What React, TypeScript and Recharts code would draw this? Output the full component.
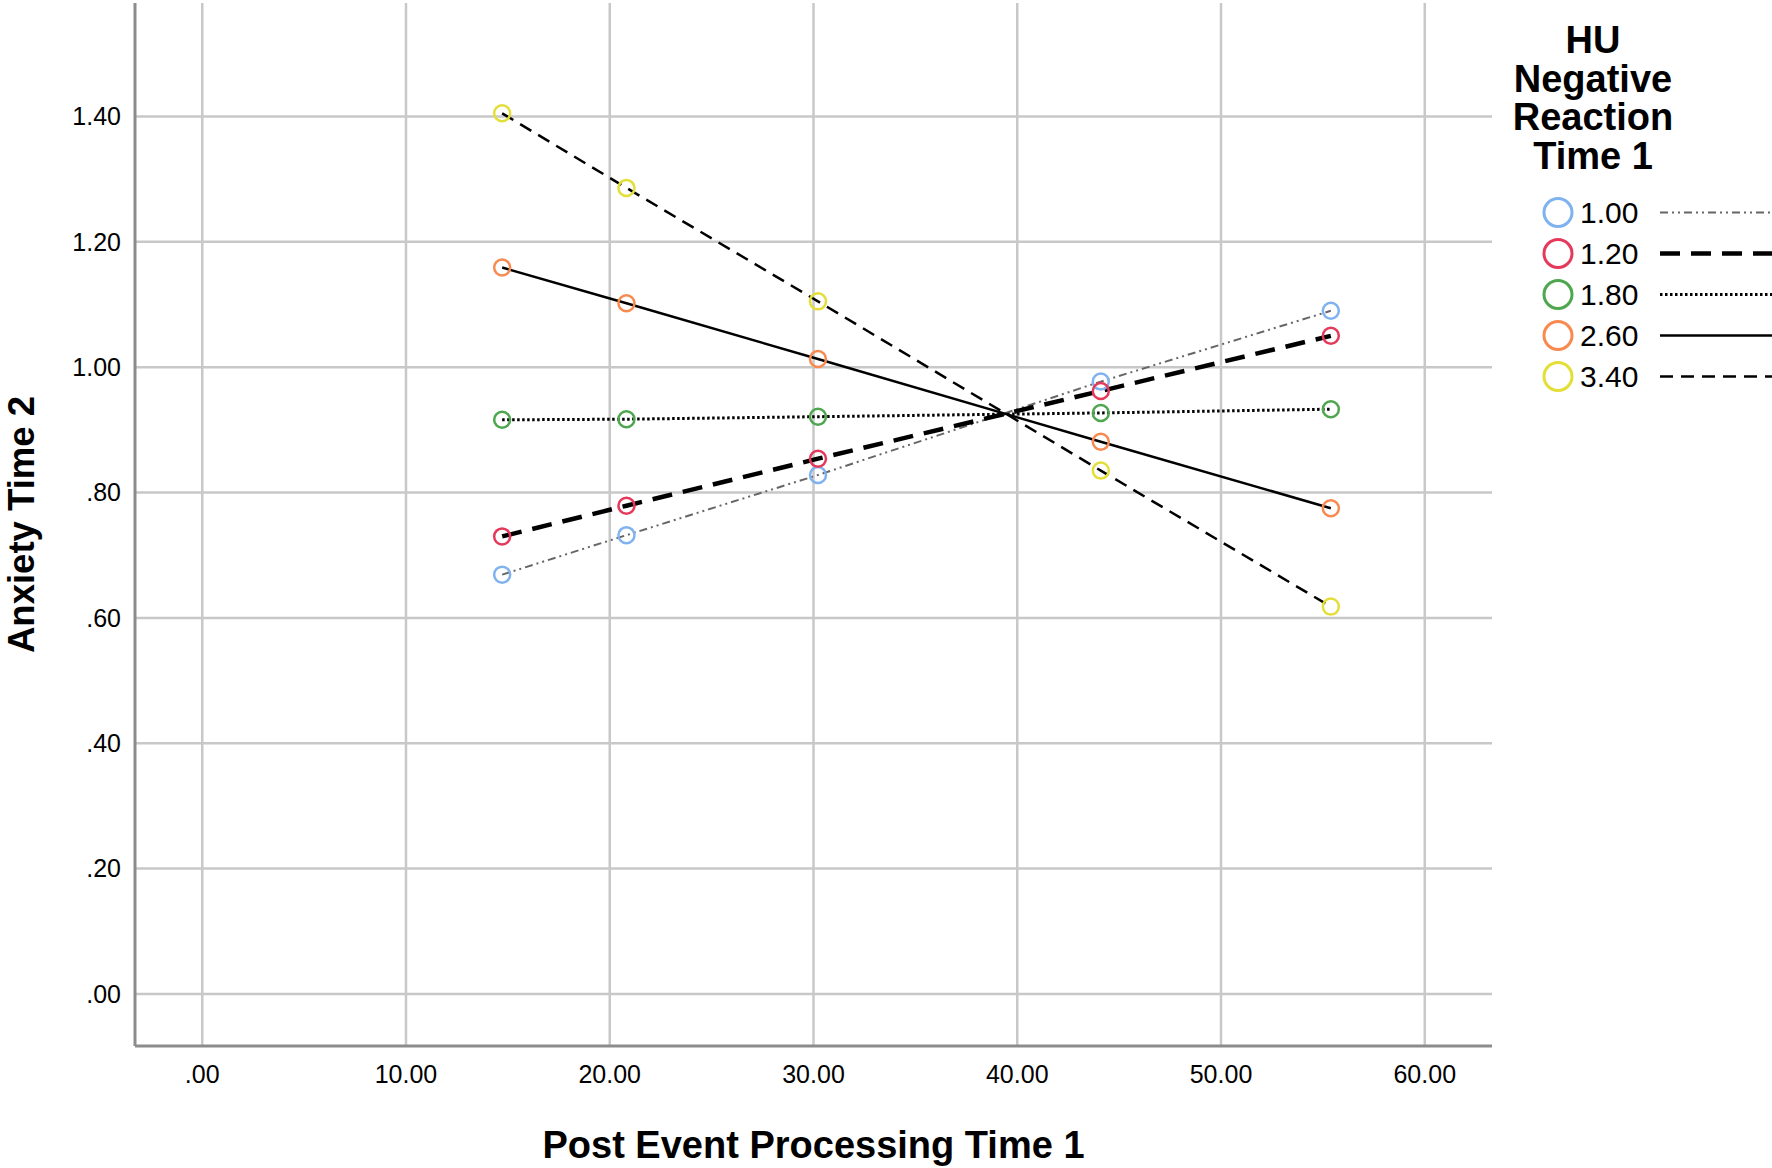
import { LineChart, Line, XAxis, YAxis, ReferenceLine, Legend } from 'recharts';

// post event processing time 1 values where the lines are evaluated
const pepTime1 = [14.72, 20.82, 30.22, 44.1, 55.39];

// anxiety time 2, one array per HU negative reaction level
const hu100 = [0.669, 0.732, 0.828, 0.977, 1.09];
const hu120 = [0.73, 0.779, 0.854, 0.962, 1.05];
const hu180 = [0.916, 0.917, 0.921, 0.927, 0.933];
const hu260 = [1.159, 1.102, 1.013, 0.881, 0.775];
const hu340 = [1.405, 1.286, 1.105, 0.835, 0.618];

const groupLabels = ['1.00', '1.20', '1.80', '2.60', '3.40'];
const groupValues = [hu100, hu120, hu180, hu260, hu340];

const xTicks = [0, 10, 20, 30, 40, 50, 60];
const yTicks = [0, 0.2, 0.4, 0.6, 0.8, 1.0, 1.2, 1.4];

const xTitle = 'Post Event Processing Time 1';
const yTitle = 'Anxiety Time 2';
const legendTitle = ['HU', 'Negative', 'Reaction', 'Time 1'];

const looks = [
  { marker: '#7fb2ee', stroke: '#666666', width: 2, dash: '8 4 2 4 2 4' },
  { marker: '#e5395c', stroke: '#000000', width: 4.5, dash: '20 11' },
  { marker: '#4ea64e', stroke: '#000000', width: 3, dash: '2.5 2.5' },
  { marker: '#f88a50', stroke: '#000000', width: 2.5, dash: undefined },
  { marker: '#e4df38', stroke: '#000000', width: 2.5, dash: '13 8' },
];

const series = groupLabels.map((name, i) => ({
  name,
  ...looks[i],
  data: pepTime1.map((x, j) => ({ x, y: groupValues[i][j] })),
}));

const fmt = (v: number) => v.toFixed(2).replace(/^0\./, '.');

const SANS = '"Liberation Sans", Arial, sans-serif';
const GRID = '#c8c8c8';

const XTitle = (props: any) => {
  const vb = props.viewBox;
  return (
    <text x={vb.x + vb.width / 2} y={vb.y + 112} textAnchor="middle" fontFamily={SANS} fontWeight="bold" fontSize={38} fill="#000">
      {xTitle}
    </text>
  );
};

const YTitle = (props: any) => {
  const vb = props.viewBox;
  const cx = 34;
  const cy = vb.y + vb.height / 2;
  return (
    <text x={cx} y={cy} transform={`rotate(-90 ${cx} ${cy})`} textAnchor="middle" fontFamily={SANS} fontWeight="bold" fontSize={36.5} fill="#000">
      {yTitle}
    </text>
  );
};

const LegendBox = () => (
  <svg width={272} height={400} style={{ display: 'block' }}>
    {legendTitle.map((t, i) => (
      <text key={t} x={93} y={53 + i * 38.5} textAnchor="middle" fontFamily={SANS} fontWeight="bold" fontSize={38} fill="#000">
        {t}
      </text>
    ))}
    {series.map((s, i) => {
      const cy = 212.5 + i * 41;
      return (
        <g key={s.name}>
          <circle cx={58} cy={cy} r={14} fill="none" stroke={s.marker} strokeWidth={3} />
          <text x={80} y={cy + 10.5} fontFamily={SANS} fontSize={30} fill="#000">
            {s.name}
          </text>
          <line x1={160} x2={272} y1={cy} y2={cy} stroke={s.stroke} strokeWidth={s.width} strokeDasharray={s.dash} />
        </g>
      );
    })}
  </svg>
);

export default function App() {
  return (
    <div style={{ position: 'absolute', left: 0, top: 0, width: 1772, height: 1168, background: '#fff' }}>
      <LineChart width={1772} height={1168} margin={{ top: 3, right: 280, left: 15, bottom: 62 }}>
        <XAxis
          type="number"
          dataKey="x"
          domain={[-3.3, 63.3]}
          ticks={xTicks}
          tickFormatter={fmt}
          interval={0}
          height={60}
          axisLine={{ stroke: '#8c8c8c', strokeWidth: 3 }}
          tickLine={false}
          tickSize={0}
          tickMargin={19}
          tick={{ fill: '#000', fontSize: 25, fontFamily: SANS }}
          label={XTitle}
          allowDataOverflow
        />
        <YAxis
          type="number"
          dataKey="y"
          domain={[-0.083, 1.581]}
          ticks={yTicks}
          tickFormatter={fmt}
          interval={0}
          width={120}
          axisLine={{ stroke: '#8c8c8c', strokeWidth: 3 }}
          tickLine={false}
          tickSize={0}
          tickMargin={14}
          tick={{ fill: '#000', fontSize: 25, fontFamily: SANS }}
          label={YTitle}
          allowDataOverflow
        />
        {xTicks.map((t) => (
          <ReferenceLine key={`gx${t}`} x={t} stroke={GRID} strokeWidth={2.5} />
        ))}
        {yTicks.map((t) => (
          <ReferenceLine key={`gy${t}`} y={t} stroke={GRID} strokeWidth={2.5} />
        ))}
        <Legend
          layout="horizontal"
          verticalAlign="middle"
          align="center"
          width={272}
          height={400}
          wrapperStyle={{ left: 1500, top: 0, width: 272, height: 400 }}
          content={LegendBox}
        />
        {series.map((s) => (
          <Line
            key={s.name}
            name={s.name}
            data={s.data}
            dataKey="y"
            type="linear"
            stroke={s.stroke}
            strokeWidth={s.width}
            strokeDasharray={s.dash}
            dot={{ r: 8, stroke: s.marker, strokeWidth: 2.5, fill: 'none', strokeDasharray: 'none' }}
            activeDot={false}
            isAnimationActive={false}
          />
        ))}
      </LineChart>
    </div>
  );
}
